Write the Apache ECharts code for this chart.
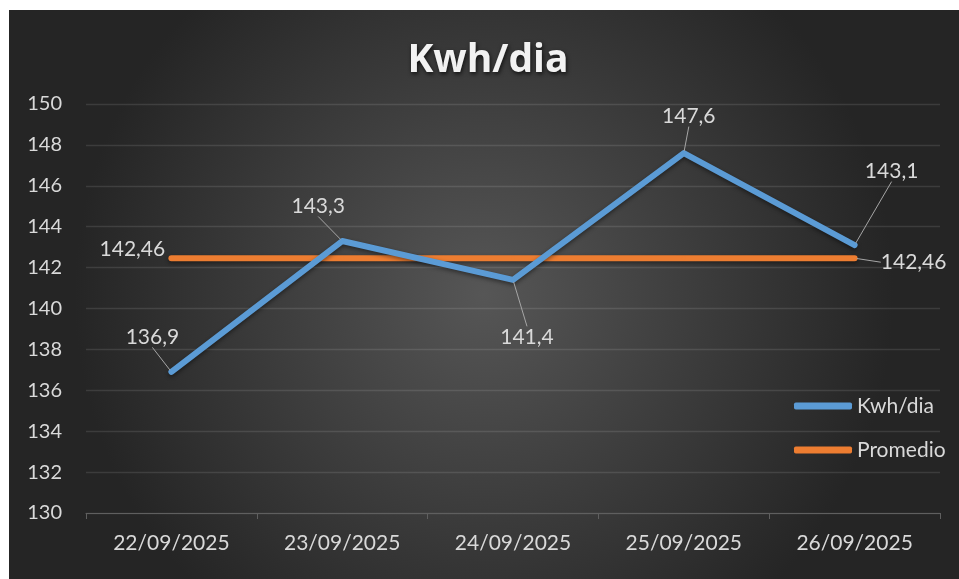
<!DOCTYPE html>
<html>
<head>
<meta charset="utf-8">
<script src="https://cdn.jsdelivr.net/npm/echarts@6/dist/echarts.min.js"></script>
<style>
  html, body { margin: 0; padding: 0; background: #ffffff; }
  #chart { position: absolute; left: 9px; top: 10px; width: 950px; height: 569px; }
</style>
</head>
<body>
<div id="chart"></div>
<script>
// ---- data ----
const categories = ['22/09/2025', '23/09/2025', '24/09/2025', '25/09/2025', '26/09/2025'];
const kwhValues = [136.9, 143.3, 141.4, 147.6, 143.1];
const promedioValues = [142.46, 142.46, 142.46, 142.46, 142.46];
const yMin = 130;
const yMax = 150;
const yStep = 2;
const seriesNames = ['Kwh/dia', 'Promedio'];
const titleText = 'Kwh/dia';

// ---- layout (label offsets from their points, in px) ----
const kwhLabelOffsets = [[-19, -35], [-24, -35], [14, 57], [5, -37], [37, -74]];
const promLabelOffsets = [[-39, -9], null, null, null, [59, 4]];

const fmt = v => String(v).replace('.', ',');
const textColor = '#d9d9d9';
const leaderColor = '#a6a6a6';

const chart = echarts.init(document.getElementById('chart'));

const kwhData = kwhValues.map(v => ({ value: v }));
const promData = promedioValues.map((v, i) => ({
  value: v,
  label: { show: promLabelOffsets[i] !== null },
  labelLine: { show: i !== 0 }
}));

const labelCommon = {
  show: true,
  position: 'inside',
  color: textColor,
  fontFamily: 'Lato',
  fontSize: 21,
  formatter: p => fmt(p.value)
};

chart.setOption({
  backgroundColor: {
    type: 'radial', x: 0.5, y: 0.5, r: 0.72,
    colorStops: [{ offset: 0, color: '#565656' }, { offset: 1, color: '#252525' }]
  },
  animation: false,
  title: {
    text: titleText,
    left: 474,
    textAlign: 'center',
    top: 26,
    textStyle: {
      color: '#f2f2f2',
      fontFamily: 'Open Sans',
      fontWeight: 'bold',
      fontSize: 39,
      textShadowColor: 'rgba(0,0,0,0.7)',
      textShadowBlur: 4,
      textShadowOffsetX: 1,
      textShadowOffsetY: 2
    }
  },
  legend: {
    orient: 'vertical',
    left: 780,
    top: 380,
    itemGap: 22,
    itemWidth: 58,
    itemHeight: 7,
    icon: 'roundRect',
    data: seriesNames,
    textStyle: { color: textColor, fontFamily: 'Lato', fontSize: 21, lineHeight: 22 }
  },
  grid: { left: 77, right: 19, top: 94, bottom: 66, containLabel: false },
  xAxis: {
    type: 'category',
    data: categories,
    boundaryGap: true,
    axisLine: { lineStyle: { color: '#5f5f5f', width: 1 } },
    axisTick: { show: true, length: 6, lineStyle: { color: '#5f5f5f' } },
    axisLabel: { color: textColor, fontFamily: 'Lato', fontSize: 21, margin: 20 },
    splitLine: { show: false }
  },
  yAxis: {
    type: 'value',
    min: yMin,
    max: yMax,
    interval: yStep,
    axisLine: { show: false },
    axisTick: { show: false },
    axisLabel: { color: textColor, fontFamily: 'Lato', fontSize: 20, margin: 24 },
    splitLine: { lineStyle: { color: 'rgba(255,255,255,0.11)', width: 1.3 } }
  },
  series: [
    {
      name: seriesNames[0],
      type: 'line',
      data: kwhData,
      symbol: 'circle',
      symbolSize: 4,
      showSymbol: true,
      itemStyle: { color: '#5b9bd5' },
      lineStyle: {
        color: '#5b9bd5', width: 6, cap: 'round', join: 'round',
        shadowColor: 'rgba(0,0,0,0.45)', shadowBlur: 4, shadowOffsetY: 2
      },
      label: labelCommon,
      labelLine: { show: true, lineStyle: { color: leaderColor, width: 1 } },
      labelLayout: p => {
        const o = kwhLabelOffsets[p.dataIndex];
        return { dx: o[0], dy: o[1] };
      },
      z: 3
    },
    {
      name: seriesNames[1],
      type: 'line',
      data: promData,
      symbol: 'circle',
      symbolSize: 4,
      showSymbol: true,
      itemStyle: { color: '#ed7d31' },
      lineStyle: {
        color: '#ed7d31', width: 6, cap: 'round', join: 'round',
        shadowColor: 'rgba(0,0,0,0.45)', shadowBlur: 4, shadowOffsetY: 2
      },
      label: labelCommon,
      labelLine: { show: true, lineStyle: { color: leaderColor, width: 1 } },
      labelLayout: p => {
        const o = promLabelOffsets[p.dataIndex];
        return o ? { dx: o[0], dy: o[1] } : {};
      },
      z: 2
    }
  ]
});
</script>
</body>
</html>
